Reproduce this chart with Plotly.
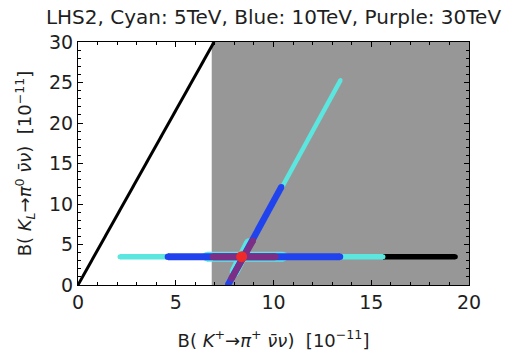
import plotly.graph_objects as go

# ---- data ----
gn_x = [0, 6.96]          # Grossman-Nir bound line
gn_y = [0, 30]
excl_x = [6.84, 20]       # shaded region in K+ direction
excl_y = [0, 30]

black_h_x = [15.6, 19.3]
black_h_y = [3.5, 3.5]

cyan_h_x = [2.15, 15.6]
cyan_h_y = [3.5, 3.5]
cyan_d_x = [7.7, 13.43]
cyan_d_y = [0, 25.3]
cyan_core_h_x = [6.6, 10.5]
cyan_core_h_y = [3.5, 3.5]
cyan_core_d_x = [8.0, 8.75]
cyan_core_d_y = [1.6, 5.2]

blue_h_x = [4.6, 13.4]
blue_h_y = [3.5, 3.5]
blue_d_x = [7.67, 10.4]
blue_d_y = [0, 12.1]

purple_h_x = [6.9, 10.1]
purple_h_y = [3.5, 3.5]
purple_d_x = [7.85, 8.95]
purple_d_y = [0.8, 5.5]

sm_x = [8.37]
sm_y = [3.5]

GREY = "#979797"
CYAN = "#5ce6e0"
BLUE = "#2143ee"
PURPLE = "#7b2f86"
RED = "#ee2a2a"

fig = go.Figure()

# shaded region
fig.add_trace(go.Scatter(
    x=[excl_x[0], excl_x[1], excl_x[1], excl_x[0], excl_x[0]],
    y=[excl_y[0], excl_y[0], excl_y[1], excl_y[1], excl_y[0]],
    fill="toself", fillcolor=GREY, line=dict(width=0, color=GREY),
    mode="lines", hoverinfo="skip", showlegend=False))

def seg(x, y, color, width):
    fig.add_trace(go.Scatter(x=x, y=y, mode="lines+markers",
                             line=dict(color=color, width=width),
                             marker=dict(color=color, size=width - 0.5, line=dict(width=0)),
                             showlegend=False, hoverinfo="skip"))

fig.add_trace(go.Scatter(x=gn_x, y=gn_y, mode="lines",
                         line=dict(color="black", width=3), showlegend=False))

seg(black_h_x, black_h_y, "black", 5.5)
seg(cyan_core_h_x, cyan_core_h_y, CYAN, 10)
seg(cyan_core_d_x, cyan_core_d_y, CYAN, 10)
seg(cyan_h_x, cyan_h_y, CYAN, 5.5)
seg(cyan_d_x, cyan_d_y, CYAN, 4.5)
seg(blue_h_x, blue_h_y, BLUE, 7)
seg(blue_d_x, blue_d_y, BLUE, 6.5)
seg(purple_h_x, purple_h_y, PURPLE, 7)
seg(purple_d_x, purple_d_y, PURPLE, 6.5)

fig.add_trace(go.Scatter(x=sm_x, y=sm_y, mode="markers",
                         marker=dict(color=RED, size=11, line=dict(width=0)),
                         showlegend=False))

FONT = "DejaVu Sans"
TXT = "#1e1e1e"

axis_common = dict(
    showline=True, linecolor="black", linewidth=1, mirror="ticks",
    ticks="inside", ticklen=5, tickcolor="black", tickwidth=1,
    showgrid=False, zeroline=False, dtick=5, tick0=0, automargin=False,
    minor=dict(dtick=1, ticks="inside", ticklen=3, tickcolor="black", showgrid=False),
    tickfont=dict(family=FONT, size=19, color=TXT),
)

fig.update_xaxes(range=[0, 20], **axis_common,
                 title=dict(text="B( <i>K</i><sup>+</sup>→<i>π</i><sup>+</sup> <i>ν̄ν</i>)  [10<sup>−11</sup>]",
                            font=dict(family=FONT, size=18, color=TXT), standoff=22))
fig.update_yaxes(range=[0, 30], **axis_common,
                 title=dict(text="B( <i>K</i><sub><i>L</i></sub>→<i>π</i><sup>0</sup> <i>ν̄ν</i>)  [10<sup>−11</sup>]",
                            font=dict(family=FONT, size=18, color=TXT), standoff=12))

fig.update_layout(
    width=520, height=352,
    margin=dict(l=78, r=51, t=42, b=67),
    paper_bgcolor="white", plot_bgcolor="white",
    title=dict(text="LHS2, Cyan: 5TeV, Blue: 10TeV, Purple: 30TeV",
               x=0.5, xref="paper", xanchor="center",
               y=1 - 17 / 352, yref="container", yanchor="middle",
               font=dict(family=FONT, size=20, color=TXT)),
    showlegend=False,
)

fig.write_html("out.html")
